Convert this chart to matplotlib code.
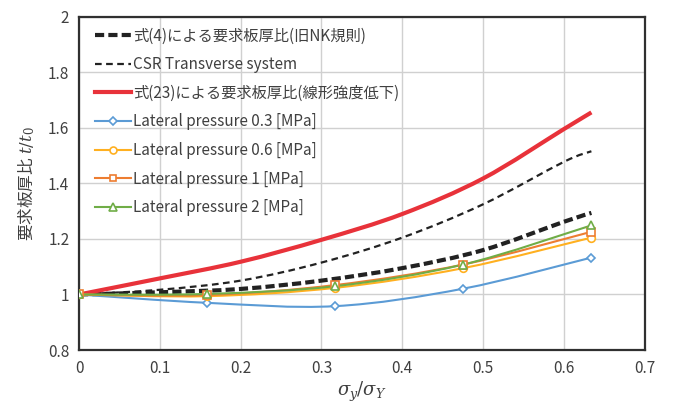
import numpy as np
import matplotlib
matplotlib.use('Agg')
import matplotlib.pyplot as plt
from matplotlib.path import Path
from matplotlib.patches import PathPatch
from matplotlib.lines import Line2D

plt.rcParams['font.family'] = ['Noto Sans CJK JP', 'DejaVu Sans']
plt.rcParams['mathtext.fontset'] = 'dejavuserif'

# 曲線データ（マーカーなし）
x_curve = [0, 0.1, 0.2, 0.3, 0.4, 0.5, 0.6, 0.634]
y_eq4 = [1.0, 1.008, 1.020, 1.050, 1.095, 1.160, 1.262, 1.294]
y_csr = [1.0, 1.017, 1.050, 1.115, 1.205, 1.325, 1.478, 1.516]
y_eq23 = [1.0, 1.058, 1.118, 1.197, 1.290, 1.418, 1.596, 1.656]

# FEM結果（マーカー付き）
x_fem = [0, 0.1585, 0.317, 0.4755, 0.634]
y_p03 = [1.0, 0.970, 0.958, 1.021, 1.133]
y_p06 = [1.0, 0.994, 1.024, 1.095, 1.205]
y_p1 = [1.0, 0.998, 1.034, 1.108, 1.226]
y_p2 = [1.0, 1.002, 1.030, 1.108, 1.249]

labels = ['式(4)による要求板厚比(旧NK規則)',
          'CSR Transverse system',
          '式(23)による要求板厚比(線形強度低下)',
          'Lateral pressure 0.3 [MPa]',
          'Lateral pressure 0.6 [MPa]',
          'Lateral pressure 1 [MPa]',
          'Lateral pressure 2 [MPa]']


def smooth_path(xs, ys, t=1/6):
    # Excel風のスムージング（3次ベジェ）
    xs = np.asarray(xs, float)
    ys = np.asarray(ys, float)
    pts = np.column_stack([xs, ys])
    n = len(pts)
    verts = [pts[0]]
    codes = [Path.MOVETO]
    for i in range(n - 1):
        p0 = pts[max(i - 1, 0)]
        p1 = pts[i]
        p2 = pts[i + 1]
        p3 = pts[min(i + 2, n - 1)]
        c1 = p1 + (p2 - p0) * t
        c2 = p2 - (p3 - p1) * t
        verts += [c1, c2, p2]
        codes += [Path.CURVE4] * 3
    return Path(verts, codes)


fig = plt.figure(figsize=(6.73, 4.03), dpi=100)
ax = fig.add_axes([0.1174, 0.1315, 0.8406, 0.8265])

c_blue = '#5B9BD5'
c_yel = '#FFB020'
c_ora = '#ED7D31'
c_grn = '#70AD47'
c_red = '#E8323A'
c_blk = '#222222'

curves = [
    (x_curve, y_eq4, dict(color=c_blk, lw=3.0, ls=(0, (2.2, 1.0)))),
    (x_curve, y_csr, dict(color=c_blk, lw=1.6, ls=(0, (3.0, 2.0)))),
    (x_curve, y_eq23, dict(color=c_red, lw=3.0, ls='-')),
]
for xs, ys, st in curves:
    ax.add_patch(PathPatch(smooth_path(xs, ys), fill=False, edgecolor=st['color'],
                           lw=st['lw'], ls=st['ls'], capstyle='butt', zorder=3))

fem = [
    (y_p03, c_blue, 'D', 4.5),
    (y_p06, c_yel, 'o', 5.5),
    (y_p1, c_ora, 's', 5.5),
    (y_p2, c_grn, '^', 6),
]
for ys, col, mk, ms in fem:
    ax.add_patch(PathPatch(smooth_path(x_fem, ys), fill=False, edgecolor=col, lw=1.5, zorder=4))
    ax.plot(x_fem, ys, ls='none', marker=mk, ms=ms, mfc='white', mec=col, mew=1.2, zorder=5)

handles = [
    Line2D([], [], color=c_blk, lw=3.0, ls=(0, (2.2, 1.0))),
    Line2D([], [], color=c_blk, lw=1.6, ls=(0, (3.0, 2.0))),
    Line2D([], [], color=c_red, lw=3.0),
]
for ys, col, mk, ms in fem:
    handles.append(Line2D([], [], color=col, lw=1.5, marker=mk, ms=ms - 0.5,
                          mfc='white', mec=col, mew=1.2))

leg = ax.legend(handles, labels, loc='upper left', bbox_to_anchor=(0.01, 0.998),
                frameon=False, fontsize=11, labelspacing=0.76, handlelength=2.4,
                handletextpad=0.12, borderaxespad=0.25, labelcolor='#404040')

ax.set_xlim(0, 0.7)
ax.set_ylim(0.8, 2.0)
ax.set_xticks(np.arange(0, 0.71, 0.1))
ax.set_yticks(np.arange(0.8, 2.01, 0.2))
ax.set_xticklabels(['0', '0.1', '0.2', '0.3', '0.4', '0.5', '0.6', '0.7'])
ax.set_yticklabels(['0.8', '1', '1.2', '1.4', '1.6', '1.8', '2'])
ax.tick_params(length=0, labelsize=11, labelcolor='#404040', pad=7)
ax.grid(True, color='#D0D0D0', lw=1.0)
ax.set_axisbelow(True)
for s in ax.spines.values():
    s.set_color('#303030')
    s.set_linewidth(1.6)

ax.set_xlabel(r'$\sigma_y/\sigma_Y$', fontsize=13, color='#404040', labelpad=2)
ax.set_ylabel('要求板厚比 $t/t_0$', fontsize=12, color='#404040', labelpad=8)

fig.savefig('out.png', dpi=100)
